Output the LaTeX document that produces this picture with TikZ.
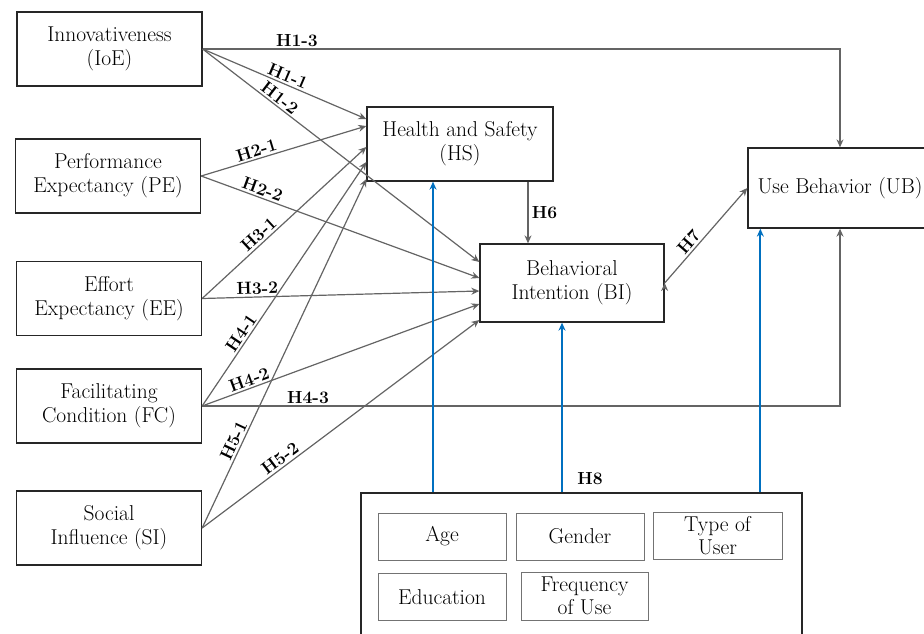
\documentclass[tikz,border=0pt]{standalone}
\usepackage{tikz}
\usetikzlibrary{arrows.meta}
\definecolor{linegray}{RGB}{100,100,100}
\definecolor{modblue}{RGB}{0,112,192}
\tikzset{
    %Define standard arrow tip
    >={Stealth[length=8pt,width=7pt]},
    %Define style for boxes
    construct/.style={
           rectangle,
           draw=black!85, line width=1.3pt,
           minimum width=185pt,
           minimum height=74pt,
           align=center,
           font=\fontsize{21.5}{24}\selectfont},
    factor/.style={
           rectangle,
           draw=black!55, line width=0.8pt,
           minimum width=128pt,
           minimum height=47pt,
           align=center,
           font=\fontsize{21.5}{23}\selectfont},
    % Define arrow style
    pil/.style={
           ->,
           draw=linegray, line width=1.2pt},
    modpil/.style={
           ->,
           draw=modblue, line width=1.8pt},
    hyp/.style={
           font=\fontsize{17.5}{20}\selectfont\bfseries,
           sloped, above, inner sep=2pt}
}

\begin{document}
\begin{tikzpicture}[x=1pt,y=-1pt]
\useasboundingbox (0,0) rectangle (924,633);
 %nodes
\node[construct] (IoE) at (109.5,49) {Innovativeness\\(IoE)};
\node[construct] (PE) at (108,176) {Performance\\Expectancy (PE)};
\node[construct] (EE) at (109,298.5) {Effort\\Expectancy (EE)};
\node[construct] (FC) at (109,406) {Facilitating\\Condition (FC)};
\node[construct] (SI) at (109,528) {Social\\Influence (SI)};
\node[construct, minimum width=186pt] (HS) at (460,144) {Health and Safety\\(HS)};
\node[construct, minimum width=184pt, minimum height=78pt] (BI) at (572,283) {Behavioral\\Intention (BI)};
\node[construct, minimum width=184pt, minimum height=80pt] (UB) at (840,188) {Use Behavior (UB)};

 %moderators
\node[construct, minimum width=441pt, minimum height=152pt] (MOD) at (581.5,569) {};
\node[factor] (Age) at (442,536.5) {Age};
\node[factor] (Gen) at (580,536.5) {Gender};
\node[factor, minimum width=129pt] (Type) at (717.5,536) {Type of\\User};
\node[factor] (Edu) at (442,597) {Education};
\node[factor, minimum width=127pt, minimum height=48pt] (Freq) at (584.5,596) {Frequency\\of Use};

 %hypotheses
\path[pil]
    (IoE.east) edge node[hyp, pos=0.5] {H1-1} ([yshift=25pt]HS.west)
        edge node[hyp, pos=0.26] {H1-2} ([yshift=21pt]BI.west)
    (PE.east) edge node[hyp, pos=0.35] {H2-1} ([yshift=18pt]HS.west)
        edge node[hyp, pos=0.21] {H2-2} ([yshift=5pt]BI.west)
    (EE.east) edge node[hyp, pos=0.38] {H3-1} ([yshift=-3pt]HS.west)
        edge node[hyp, pos=0.2] {H3-2} ([yshift=-8pt]BI.west)
    (FC.east) edge node[hyp, pos=0.28] {H4-1} ([yshift=-18pt]HS.west)
        edge node[hyp, pos=0.18] {H4-2} ([yshift=-21pt]BI.west)
    (SI.east) edge node[hyp, pos=0.24] {H5-1} ([yshift=-35pt]HS.west)
        edge node[hyp, pos=0.3] {H5-2} ([yshift=-37pt]BI.west)
    (BI.east) edge node[hyp, pos=0.37] {H7} (UB.west);
\draw[pil] (IoE.east) -| node[hyp, pos=0.074] {H1-3} (UB.north);
\draw[pil] (FC.east) -| node[hyp, pos=0.083] {H4-3} (UB.south);
\draw[pil] ([xshift=-44pt]BI.north |- HS.south) -- node[right, font=\fontsize{17.5}{20}\selectfont\bfseries] {H6} ([xshift=-44pt]BI.north);

 %moderation
\draw[modpil] ([xshift=-27pt]HS.south |- MOD.north) -- ([xshift=-27pt]HS.south);
\draw[modpil] ([xshift=-10pt]BI.south |- MOD.north) -- ([xshift=-10pt]BI.south);
\draw[modpil] ([xshift=13pt]UB.south west |- MOD.north) -- ([xshift=13pt]UB.south west);
\node[font=\fontsize{17.5}{20}\selectfont\bfseries] (H8) at (590,479) {H8};
\end{tikzpicture}
\end{document}
